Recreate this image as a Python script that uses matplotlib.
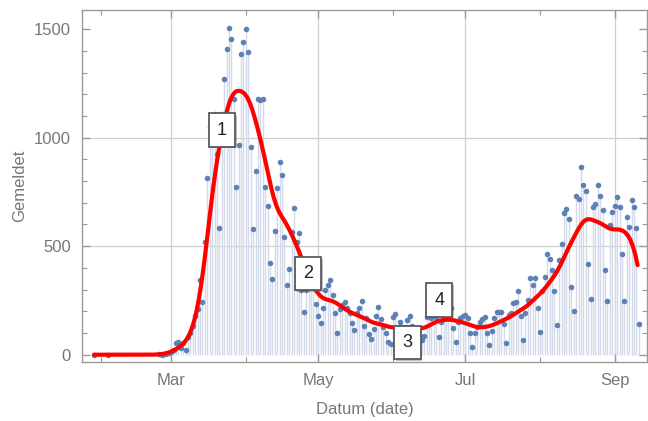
import numpy as np
import pandas as pd
import matplotlib
matplotlib.use('Agg')
import matplotlib.pyplot as plt
import matplotlib.dates as mdates
from matplotlib.ticker import MultipleLocator
from matplotlib import patheffects

plt.rcParams['font.family'] = ['Liberation Sans', 'DejaVu Sans']

# Gemeldete Fälle (reported cases) pro Tag
first_dates = ['2020-01-29', '2020-02-04']
first_values = [0, 0]

start_date = '2020-02-25'
cases = [
    1, 0, 2, 5, 8, 14, 20, 52, 60, 29, 53, 22, 83, 100, 130, 180, 209, 344, 244,
    521, 816, 1050, 1100, 1110, 923, 585, 1110, 1270, 1407, 1504, 1455, 1178, 772,
    965, 1384, 1440, 1502, 1395, 958, 578, 845, 1180, 1175, 1176, 774, 685, 421,
    350, 571, 770, 889, 828, 544, 323, 395, 565, 675, 521, 559, 300, 197, 300,
    360, 370, 330, 232, 180, 146, 214, 298, 321, 344, 276, 194, 101, 209, 229,
    244, 214, 190, 147, 114, 191, 214, 249, 130, 168, 94, 74, 118, 180, 218, 163,
    129, 101, 60, 49, 175, 186, 120, 150, 110, 60, 160, 178, 130, 120, 100, 91,
    68, 86, 175, 190, 170, 185, 175, 83, 150, 168, 206, 190, 214, 124, 60, 150,
    168, 178, 183, 168, 101, 37, 101, 129, 152, 165, 172, 101, 45, 111, 171, 198,
    198, 198, 141, 55, 183, 190, 237, 244, 295, 180, 68, 191, 250, 352, 321, 352,
    214, 106, 295, 357, 464, 441, 390, 295, 137, 436, 509, 652, 670, 624, 313,
    203, 731, 717, 866, 782, 754, 418, 255, 679, 693, 782, 731, 667, 390, 249,
    598, 659, 685, 725, 679, 464, 249, 636, 587, 713, 679, 582, 141,
]

# Markierungen (Nummer, Datum, Höhe)
marks = ['1', '2', '3', '4']
mark_dates = ['2020-03-22', '2020-04-26 16:00', '2020-06-07', '2020-06-20 05:00']
mark_heights = [1035, 374, 56, 252]

dates = pd.to_datetime(first_dates).append(
    pd.date_range(start_date, periods=len(cases), freq='D'))
values = np.array(first_values + cases, dtype=float)

# Geglättete Kurve: Gauss-Filter auf täglichem Raster (etwas nachlaufend)
series = pd.Series(values, index=dates)
daily = series.reindex(pd.date_range(dates[0], dates[-1], freq='D')).fillna(0)
sigma = 3.5
lag = pd.Timedelta(hours=36)
k = np.arange(-12, 13)
weights = np.exp(-k**2 / (2 * sigma**2))
weights = weights / weights.sum()
padded = np.pad(daily.values, 12, mode='constant')
smooth = pd.Series(np.convolve(padded, weights, mode='valid'), index=daily.index + lag)
smooth = smooth[smooth.index <= dates[-1]]
smooth = pd.concat([pd.Series([0.0], index=[dates[0]]), smooth])

fig = plt.figure(figsize=(6.48, 4.21), dpi=100)
ax = fig.add_axes([0.1265, 0.1394, 0.872, 0.8368])

grid_color = '#cfcfcf'
for y in [500, 1000]:
    ax.axhline(y, color=grid_color, lw=0.9, zorder=0)
for d in ['2020-03-01', '2020-05-01', '2020-07-01', '2020-09-01']:
    ax.axvline(pd.Timestamp(d), color=grid_color, lw=0.9, zorder=0)

ax.vlines(dates, 0, values, color='#d3dbeb', lw=1.0, zorder=1)
ax.plot(dates, values, 'o', color='#5e81b5', ms=4, mec='none', zorder=2)
ax.plot(smooth.index, smooth.values, color='#ff0000', lw=3, zorder=3,
        solid_capstyle='round')

for label, d, h in zip(marks, mark_dates, mark_heights):
    t = ax.text(pd.Timestamp(d), h, label, fontsize=13, color='#222222',
                ha='center', va='center', zorder=5,
                bbox=dict(boxstyle='square,pad=0.45', fc='white', ec='#5a5a5a', lw=1.3))
    t.get_bbox_patch().set_path_effects([
        patheffects.SimplePatchShadow(offset=(1.2, -1.2), alpha=0.35),
        patheffects.Normal()])

ax.set_xlim(pd.Timestamp('2020-01-24'), pd.Timestamp('2020-09-14 10:00'))
ax.set_ylim(-35, 1588)

ax.xaxis.set_major_locator(mdates.MonthLocator(bymonth=[3, 5, 7, 9]))
ax.xaxis.set_minor_locator(mdates.MonthLocator(bymonth=[2, 4, 6, 8]))
ax.xaxis.set_major_formatter(mdates.DateFormatter('%b'))
ax.yaxis.set_major_locator(MultipleLocator(500))
ax.yaxis.set_minor_locator(MultipleLocator(100))

frame_color = '#9a9a9a'
text_color = '#777777'
for s in ax.spines.values():
    s.set_color(frame_color)
    s.set_linewidth(1.0)
ax.tick_params(which='both', direction='in', top=True, right=True,
               color=frame_color, labelcolor=text_color, labelsize=12)
ax.tick_params(which='major', length=6, width=1.0, pad=8)
ax.tick_params(which='minor', length=3.5, width=0.8)

ax.set_xlabel('Datum (date)', fontsize=12, color=text_color, labelpad=10)
ax.set_ylabel('Gemeldet', fontsize=12, color=text_color, labelpad=5)

fig.savefig('out.png', dpi=100)
